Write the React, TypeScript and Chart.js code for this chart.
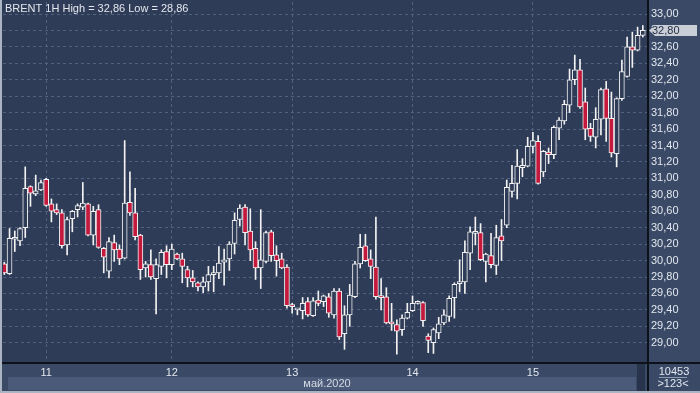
import React, { useEffect, useRef } from 'react';
import { Chart, registerables } from 'chart.js';

Chart.register(...registerables);

// ---- data (BRENT 1H, 123 hourly bars) ----
const openP = [
  29.96, 29.84, 30.26, 30.24, 30.40, 30.90, 30.81, 30.86, 30.99, 30.69,
  30.62, 30.58, 30.19, 30.51, 30.62, 30.65, 30.69, 30.31, 30.62, 30.15,
  29.87, 30.22, 30.14, 30.03, 30.71, 30.58, 30.31, 29.91, 29.95, 29.78,
  29.93, 30.11, 29.95, 30.08, 30.02, 29.89, 29.79, 29.73, 29.68, 29.74,
  29.83, 29.85, 29.98, 30.02, 30.21, 30.50, 30.65, 30.36, 30.15, 29.91,
  29.99, 30.35, 30.07, 30.02, 29.92, 29.45, 29.40, 29.39, 29.50, 29.33,
  29.52, 29.50, 29.56, 29.34, 29.63, 29.11, 29.34, 29.56, 29.96, 30.18,
  30.02, 29.92, 29.56, 29.56, 29.24, 29.22, 29.16, 29.30, 29.39, 29.48,
  29.49, 29.08, 29.00, 29.12, 29.24, 29.32, 29.55, 29.72, 29.74, 30.09,
  30.33, 30.34, 29.99, 30.06, 29.94, 30.30, 30.43, 30.84, 30.94, 31.13,
  31.15, 31.39, 31.45, 31.08, 31.32, 31.29, 31.61, 31.70, 31.89, 32.20,
  32.32, 31.93, 31.61, 31.50, 31.72, 32.09, 31.73, 31.30, 31.97, 32.24,
  32.60, 32.56, 32.74,
];
const highP = [
  29.98, 30.39, 30.36, 30.40, 31.14, 30.91, 31.04, 30.98, 31.00, 30.75,
  30.69, 30.62, 30.53, 30.61, 30.69, 30.95, 30.70, 30.66, 30.68, 30.16,
  30.28, 30.31, 30.19, 31.46, 31.08, 30.88, 30.32, 29.99, 30.13, 30.02,
  30.13, 30.18, 30.20, 30.09, 30.09, 29.93, 29.88, 29.74, 29.80, 29.93,
  29.93, 30.17, 30.14, 30.23, 30.58, 30.68, 30.68, 30.63, 30.23, 30.62,
  30.36, 30.37, 30.18, 30.09, 29.95, 29.48, 29.41, 29.55, 29.55, 29.55,
  29.63, 29.58, 29.60, 29.66, 29.66, 29.45, 29.71, 29.99, 30.32, 30.32,
  30.13, 30.53, 29.78, 29.67, 29.48, 29.28, 29.34, 29.48, 29.57, 29.51,
  29.50, 29.11, 29.18, 29.31, 29.40, 29.57, 29.73, 30.01, 30.24, 30.41,
  30.53, 30.45, 30.09, 30.33, 30.43, 30.50, 30.98, 31.16, 31.35, 31.24,
  31.50, 31.56, 31.52, 31.34, 31.37, 31.64, 31.74, 31.95, 32.33, 32.50,
  32.45, 32.10, 31.67, 31.86, 32.10, 32.18, 32.05, 31.98, 32.44, 32.72,
  32.78, 32.84, 32.86,
];
const lowP = [
  29.83, 29.83, 30.11, 30.18, 30.28, 30.66, 30.79, 30.85, 30.66, 30.47,
  30.56, 30.15, 30.07, 30.35, 30.53, 30.62, 30.30, 30.19, 30.15, 29.85,
  29.79, 29.99, 29.95, 30.02, 30.55, 30.25, 29.77, 29.80, 29.77, 29.35,
  29.83, 29.79, 29.89, 30.01, 29.73, 29.68, 29.68, 29.63, 29.61, 29.63,
  29.62, 29.78, 29.70, 29.88, 30.08, 30.42, 30.19, 30.00, 29.77, 29.66,
  29.97, 29.99, 29.81, 29.90, 29.42, 29.36, 29.34, 29.29, 29.32, 29.32,
  29.45, 29.44, 29.31, 29.30, 29.04, 28.92, 29.20, 29.55, 29.91, 29.99,
  29.78, 29.53, 29.40, 29.23, 29.15, 28.86, 29.09, 29.29, 29.38, 29.47,
  29.20, 28.88, 28.87, 29.05, 29.22, 29.26, 29.30, 29.62, 29.60, 29.89,
  30.19, 30.00, 29.74, 29.91, 29.83, 30.00, 30.40, 30.77, 30.75, 31.02,
  31.14, 31.31, 30.93, 31.02, 31.18, 31.24, 31.47, 31.66, 31.80, 32.14,
  31.85, 31.47, 31.45, 31.37, 31.53, 31.45, 31.26, 31.14, 31.95, 32.23,
  32.35, 32.55, 32.72,
];
const closeP = [
  29.85, 30.27, 30.28, 30.39, 30.88, 30.82, 30.85, 30.95, 30.67, 30.60,
  30.58, 30.18, 30.50, 30.60, 30.67, 30.70, 30.31, 30.60, 30.16, 30.04,
  30.23, 30.13, 30.02, 30.70, 30.58, 30.29, 29.89, 29.96, 29.80, 29.95,
  30.10, 29.95, 30.14, 30.02, 29.93, 29.79, 29.74, 29.68, 29.74, 29.83,
  29.85, 29.97, 30.01, 30.20, 30.49, 30.64, 30.34, 30.13, 29.91, 30.01,
  30.34, 30.06, 30.00, 29.91, 29.45, 29.44, 29.41, 29.48, 29.34, 29.51,
  29.48, 29.57, 29.36, 29.63, 29.07, 29.34, 29.58, 29.96, 30.16, 30.00,
  29.93, 29.56, 29.55, 29.24, 29.23, 29.14, 29.30, 29.37, 29.48, 29.50,
  29.27, 29.03, 29.16, 29.23, 29.34, 29.54, 29.71, 29.73, 30.10, 30.35,
  30.34, 30.01, 30.08, 29.95, 30.28, 30.24, 30.89, 30.94, 31.15, 31.16,
  31.39, 31.46, 30.94, 31.33, 31.29, 31.62, 31.71, 31.90, 32.20, 32.32,
  31.87, 31.60, 31.51, 31.72, 32.08, 31.73, 31.31, 31.97, 32.30, 32.60,
  32.56, 32.74, 32.80,
];
const dayLabels = ['11', '12', '13', '14', '15'];
const dayStartBar = [8, 32, 55, 78, 101];
const yTicks = [
  29.0, 29.2, 29.4, 29.6, 29.8, 30.0, 30.2, 30.4, 30.6, 30.8,
  31.0, 31.2, 31.4, 31.6, 31.8, 32.0, 32.2, 32.4, 32.6, 32.8, 33.0,
];
const lastPrice = 32.8;
const titleText = 'BRENT 1H High = 32,86 Low = 28,86';
const monthLabel = 'май.2020';
const footerTop = '10453';
const footerBottom = '>123<';

// ---- styles ----
const FONT = '"Liberation Sans Narrow", "Liberation Sans", Arial, sans-serif';
const PLOT_BG = '#2f3c57';
const PANEL = '#3a4966';
const STRIP = '#4a5a78';
const GRID = '#52617e';
const RED = '#c5183d';
const WHITE = '#f2f2f2';
const TEXT = '#e3e8ef';

const fmt = (v: number) => v.toFixed(2).replace('.', ',');

const decor = {
  id: 'decor',
  beforeDraw(chart: any) {
    const { ctx, chartArea: a, width, height } = chart;
    ctx.save();
    ctx.fillStyle = PANEL;
    ctx.fillRect(0, 0, width, height);
    ctx.fillStyle = PLOT_BG;
    ctx.fillRect(0, 0, a.right, a.bottom);
    // bottom strip and scroll block
    ctx.fillStyle = STRIP;
    ctx.fillRect(8, a.bottom + 15, a.right - 19, 13);
    ctx.fillStyle = '#28344b';
    ctx.fillRect(a.right - 10, a.bottom + 2, 8, 27);
    // separators
    ctx.fillStyle = '#0d1119';
    ctx.fillRect(a.right, 0, 2, height);
    ctx.fillRect(0, a.bottom, width, 2);
    // frame
    ctx.fillStyle = '#aab4c3';
    ctx.fillRect(0, 0, 2, height);
    ctx.fillRect(0, height - 2, width, 2);
    ctx.restore();
  },
  afterDraw(chart: any) {
    const { ctx, chartArea: a, scales } = chart;
    ctx.save();
    ctx.font = '11px ' + FONT;
    ctx.textBaseline = 'middle';
    // title
    ctx.fillStyle = TEXT;
    ctx.textAlign = 'left';
    ctx.fillText(titleText, 5, 8.5);
    // price tag
    const py = scales.y.getPixelForValue(lastPrice);
    ctx.fillStyle = '#c9ced7';
    ctx.beginPath();
    ctx.moveTo(a.right + 2, py);
    ctx.lineTo(a.right + 8, py - 5.5);
    ctx.lineTo(697, py - 5.5);
    ctx.lineTo(697, py + 5.5);
    ctx.lineTo(a.right + 8, py + 5.5);
    ctx.closePath();
    ctx.fill();
    ctx.fillStyle = '#1f2a40';
    ctx.fillText(fmt(lastPrice), a.right + 5, py + 0.5);
    // month label
    ctx.fillStyle = '#d5dbe5';
    ctx.textAlign = 'center';
    ctx.fillText(monthLabel, 327, a.bottom + 21.5);
    // footer right
    ctx.fillStyle = TEXT;
    ctx.fillText(footerTop, 674, a.bottom + 9.5);
    ctx.fillText(footerBottom, 673, a.bottom + 21.5);
    ctx.fillStyle = '#8e9aae';
    ctx.fillRect(659, a.bottom + 15, 28, 1);
    ctx.restore();
  },
};

export default function App() {
  const ref = useRef<HTMLCanvasElement | null>(null);

  useEffect(() => {
    if (!ref.current) return;
    const idx = openP.map((_, i) => i);
    const bodyData = idx.map((i) => ({
      x: i,
      y: [Math.min(openP[i], closeP[i]), Math.max(openP[i], closeP[i])],
    }));
    const wickData = idx.map((i) => ({ x: i, y: [lowP[i], highP[i]] }));
    const bodyColors = idx.map((i) => (closeP[i] >= openP[i] ? PLOT_BG : RED));

    const chart = new Chart(ref.current, {
      type: 'bar',
      data: {
        datasets: [
          {
            label: 'body',
            data: bodyData as any,
            backgroundColor: bodyColors,
            borderColor: WHITE,
            borderWidth: 1,
            borderSkipped: false,
            barThickness: 5,
            minBarLength: 2,
            grouped: false,
          } as any,
          {
            label: 'wick',
            data: wickData as any,
            backgroundColor: WHITE,
            borderWidth: 0,
            barThickness: 1,
            grouped: false,
          } as any,
        ],
      },
      options: {
        animation: false,
        responsive: false,
        devicePixelRatio: 1,
        layout: { padding: { left: 3, top: 2, right: 0, bottom: 0 } },
        plugins: { legend: { display: false }, tooltip: { enabled: false } },
        events: [],
        scales: {
          x: {
            type: 'linear',
            min: -0.25,
            max: 122.8,
            offset: false,
            afterBuildTicks: (s: any) => {
              s.ticks = dayStartBar.map((v) => ({ value: v }));
            },
            afterFit: (s: any) => {
              s.height = 31;
              s.paddingLeft = 0;
              s.paddingRight = 0;
            },
            ticks: {
              autoSkip: false,
              maxRotation: 0,
              padding: 4,
              color: TEXT,
              font: { family: FONT, size: 11 },
              callback: (v: any) => {
                const k = dayStartBar.indexOf(Number(v));
                return k >= 0 ? dayLabels[k] : '';
              },
            },
            grid: { color: GRID, drawTicks: false, offset: false },
            border: { display: false, dash: [3, 3] },
          } as any,
          y: {
            type: 'linear',
            position: 'right',
            min: 28.766,
            max: 33.146,
            afterBuildTicks: (s: any) => {
              s.ticks = yTicks.map((v) => ({ value: v }));
            },
            afterFit: (s: any) => {
              s.width = 53;
              s.paddingTop = 0;
              s.paddingBottom = 0;
            },
            ticks: {
              padding: 4,
              color: TEXT,
              font: { family: FONT, size: 11 },
              callback: (v: any) => fmt(Number(v)),
            },
            grid: { color: GRID, drawTicks: false },
            border: { display: false, dash: [3, 3] },
          } as any,
        },
      },
      plugins: [decor],
    });
    return () => chart.destroy();
  }, []);

  return (
    <div style={{ position: 'absolute', left: 0, top: 0, width: 700, height: 393 }}>
      <canvas ref={ref} width={700} height={393} style={{ display: 'block' }} />
    </div>
  );
}
